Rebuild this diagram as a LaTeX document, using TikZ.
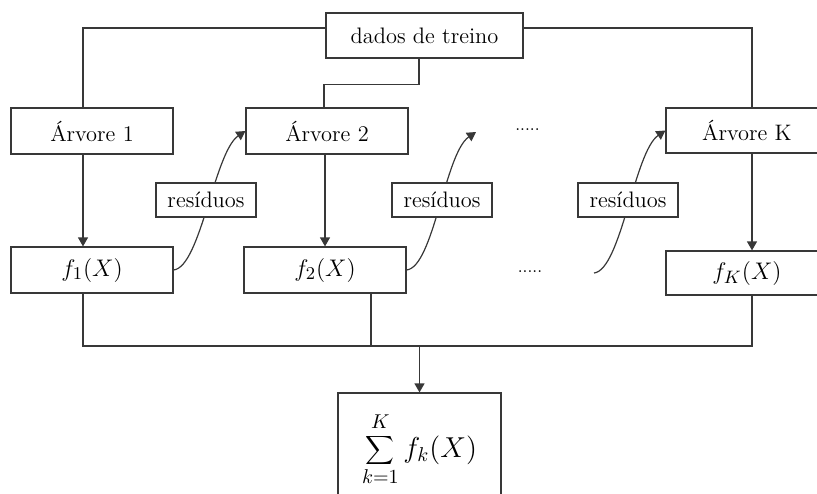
\documentclass[tikz,border=0pt]{standalone}
\usetikzlibrary{arrows.meta}
\begin{document}
\begin{tikzpicture}[x=0.5pt,y=-0.5pt,
  line width=0.6pt,
  wire/.style={draw=black!78},
  arr/.style={wire,-{Triangle[length=4.5pt,width=5pt]}},
  box/.style={draw=black!78,fill=white,inner sep=0pt,minimum height=23pt,
              font=\fontsize{11.2}{13}\selectfont},
  wbox/.style={box,minimum width=81pt},
  fbox/.style={box,minimum width=81pt,font=\fontsize{13}{15}\selectfont},
  resbox/.style={box,minimum width=50pt,minimum height=17pt},
  gap/.style={inner sep=0pt,anchor=base,font=\fontsize{8.5}{10}\selectfont}]
  \clip (0,0) rectangle (817,493);

  % boxes
  \node[box,minimum width=98.5pt,minimum height=22.5pt] (dados) at (424.5,35.5) {dados de treino};
  \node[wbox] (a1) at (92,131) {Árvore 1};
  \node[wbox] (a2) at (327,131) {Árvore 2};
  \node[wbox,minimum height=22.5pt] (aK) at (747,130.5) {Árvore K};
  \node[fbox] (f1) at (92,270) {$f_1(X)$};
  \node[fbox] (f2) at (325,270) {$f_2(X)$};
  \node[fbox,minimum height=22pt] (fK) at (747,273) {$f_K(X)$};
  \node[box,minimum width=81.5pt,minimum height=56pt,
        font=\fontsize{14}{17}\selectfont] (sum) at (419.5,449)
        {$\displaystyle\sum_{k=1}^{K\vphantom{g}} f_k(X)$};

  \node[gap] (dotsA) at (527.5,130) {.....};
  \node[gap] (dotsB) at (530,272) {.....};

  % column positions of the vertical wires
  \coordinate (c1) at (83,0);
  \coordinate (c2) at (325,0);
  \coordinate (c2b) at (371,0);
  \coordinate (cK) at (752,0);
  \coordinate (bus) at (419.5,346);
  \coordinate (e2) at (476,132);
  \coordinate (s3) at (594,273);

  % training data to the trees
  \draw[wire] ([yshift=3.75pt]dados.west) -| (c1 |- a1.north);
  \draw[wire] ([yshift=3.75pt]dados.east) -| (cK |- aK.north);
  \draw[wire] ([xshift=-2.75pt]dados.south) -- ++(0,-13pt) -| ([xshift=-1.5pt]a2.north);

  % trees to their outputs
  \draw[arr] (c1 |- a1.south) -- (c1 |- f1.north);
  \draw[arr] (c2 |- a2.south) -- (c2 |- f2.north);
  \draw[arr] (cK |- aK.south) -- (cK |- fK.north);

  % outputs summed
  \draw[wire] (c1 |- f1.south) |- (bus) -| (cK |- fK.south);
  \draw[wire] (c2b |- f2.south) -- (c2b |- bus);
  \draw[arr] (bus) -- (sum.north);

  % residuals passed on
  \draw[arr] (f1.east) .. controls +(27,-3) and +(-31,21) .. (a2.west);
  \draw[arr] (f2.east) .. controls +(27,-3) and +(-31,21) .. (e2);
  \draw[arr] (s3) .. controls +(27,-3) and +(-31,21) .. (aK.west);

  \node[resbox] (r1) at (206,200) {resíduos};
  \node[resbox] (r2) at (442,200) {resíduos};
  \node[resbox] (r3) at (628,200) {resíduos};
\end{tikzpicture}
\end{document}
